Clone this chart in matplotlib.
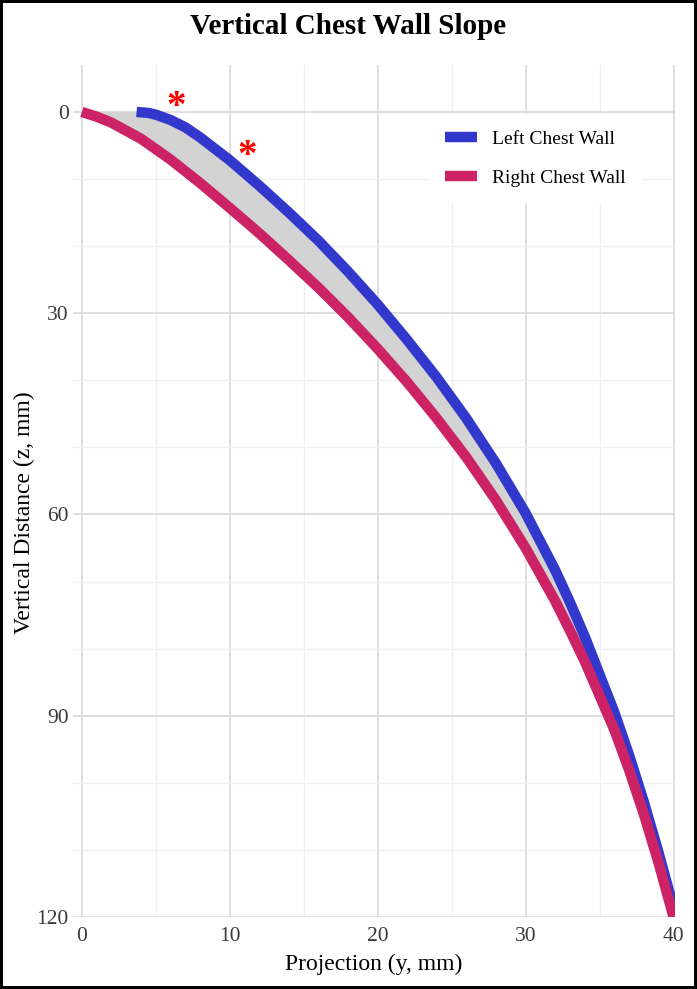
"""
Vertical chest wall slope: left vs right chest wall profile, band shaded between.
"""
import matplotlib
matplotlib.use("Agg")
import matplotlib.pyplot as plt
from matplotlib.lines import Line2D

# ----------------------------- DATA -----------------------------
# projection y (mm) -> vertical distance z (mm)
RIGHT_Y = [0, 1, 2, 4, 6, 8, 10, 12, 14, 16, 18, 20, 22, 24, 26, 28, 30, 32, 33, 34, 36, 37, 38, 39, 40]
RIGHT_Z = [0, 0.7, 1.6, 4.0, 7.1, 10.6, 14.3, 18.1, 22.1, 26.2, 30.6, 35.3, 40.3, 45.7, 51.5,
           57.9, 65.0, 72.9, 77.3, 81.9, 92.1, 98.1, 104.7, 112.0, 120.0]
LEFT_Y = [3.7, 4.5, 5, 6, 7, 8, 10, 12, 14, 16, 18, 20, 22, 24, 26, 28, 30, 32, 33, 34, 36, 37, 38, 39, 40]
LEFT_Z = [0, 0.15, 0.4, 1.2, 2.3, 3.8, 7.2, 11.0, 15.0, 19.2, 23.8, 28.7, 34.0, 39.6, 45.7,
          52.4, 59.8, 68.3, 73.1, 78.2, 89.5, 95.9, 102.9, 110.5, 118.6]
STAR_Y = [6.4, 11.2]
STAR_Z = [-1.3, 5.9]

X_MAJOR = [0, 10, 20, 30, 40]
X_MINOR = [5, 15, 25, 35]
Y_MAJOR = [0, 30, 60, 90, 120]
Y_MINOR = [10, 20, 40, 50, 70, 80, 100, 110]

# ----------------------------- STYLE -----------------------------
FONT = "Liberation Serif"
BLUE = "#3338CC"
PINK = "#CC2266"
BAND = "#D3D3D3"
LW = 7.5

plt.rcParams["font.family"] = [FONT, "DejaVu Serif"]

fig = plt.figure(figsize=(6.97, 9.89), dpi=100, linewidth=3, edgecolor="black")
ax = fig.add_axes([73 / 697, 1 - 917 / 989, (675 - 73) / 697, (917 - 65) / 989])

# shaded band between the two walls (left wall sits on z=0 before it starts)
band_x = [0] + LEFT_Y + RIGHT_Y[::-1]
band_z = [0] + LEFT_Z + RIGHT_Z[::-1]
ax.fill(band_x, band_z, color=BAND, lw=0, zorder=2)

ax.plot(LEFT_Y, LEFT_Z, color=BLUE, lw=LW, solid_capstyle="butt", solid_joinstyle="round", zorder=3)
ax.plot(RIGHT_Y, RIGHT_Z, color=PINK, lw=LW, solid_capstyle="butt", solid_joinstyle="round", zorder=4)

for sx, sz in zip(STAR_Y, STAR_Z):
    ax.text(sx, sz, "*", color="red", fontsize=28, fontweight="bold",
            ha="center", va="center_baseline", zorder=5)

ax.set_xlim(-0.6, 40.1)
ax.set_ylim(120, -7)
ax.set_xticks(X_MAJOR)
ax.set_xticks(X_MINOR, minor=True)
ax.set_yticks(Y_MAJOR)
ax.set_yticks(Y_MINOR, minor=True)
ax.grid(which="major", color="#DCDCDC", lw=1.3, zorder=0)
ax.grid(which="minor", color="#EFEFEF", lw=0.9, zorder=0)
ax.set_axisbelow(True)
ax.tick_params(which="both", length=0, labelsize=15.5, labelcolor="#3a3a3a")
ax.tick_params(axis="x", pad=7)
ax.tick_params(axis="y", pad=3)
for s in ax.spines.values():
    s.set_visible(False)

ax.set_xlabel("Projection (y, mm)", fontsize=17, labelpad=6)
ax.set_ylabel("Vertical Distance (z, mm)", fontsize=17, va="center")
ax.yaxis.set_label_coords(-0.08, 0.475)
fig.text(0.5, 1 - 27 / 989, "Vertical Chest Wall Slope", fontsize=21, fontweight="bold",
         ha="center", va="center")

handles = [Line2D([0], [0], color=BLUE, lw=LW, solid_capstyle="butt", label="Left Chest Wall"),
           Line2D([0], [0], color=PINK, lw=LW, solid_capstyle="butt", label="Right Chest Wall")]
leg = ax.legend(handles=handles, loc="upper right", bbox_to_anchor=(0.944, 0.942),
                borderaxespad=0, fontsize=14, frameon=True, fancybox=False,
                facecolor="white", edgecolor="white", framealpha=1,
                handlelength=1.6, handletextpad=0.8, labelspacing=1.1, borderpad=0.8)
leg.set_zorder(6)

fig.savefig("out.png", dpi=100)
